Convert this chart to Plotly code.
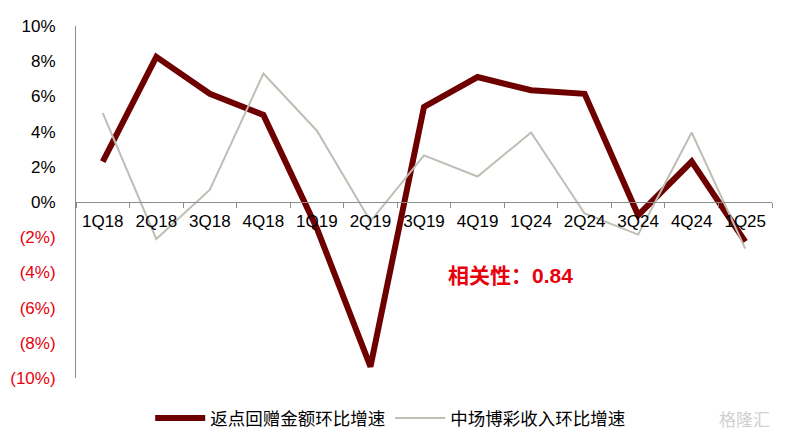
import plotly.graph_objects as go

quarters = ["1Q18", "2Q18", "3Q18", "4Q18", "1Q19", "2Q19", "3Q19", "4Q19",
            "1Q24", "2Q24", "3Q24", "4Q24", "1Q25"]
rebate_qoq = [2.3, 8.25, 6.15, 4.95, -1.5, -9.35, 5.4, 7.1, 6.35, 6.15, -0.75, 2.3, -2.25]
mass_qoq = [5.05, -2.1, 0.7, 7.3, 4.05, -1.1, 2.65, 1.45, 3.95, -0.65, -1.85, 3.95, -2.65]
y_ticks = [10, 8, 6, 4, 2, 0, -2, -4, -6, -8, -10]
y_labels = ["10%", "8%", "6%", "4%", "2%", "0%",
            "<span style='color:#E8000B'>(2%)</span>",
            "<span style='color:#E8000B'>(4%)</span>",
            "<span style='color:#E8000B'>(6%)</span>",
            "<span style='color:#E8000B'>(8%)</span>",
            "<span style='color:#E8000B'>(10%)</span>"]

FONT = "Liberation Sans, Arial, Noto Sans CJK SC, sans-serif"

fig = go.Figure()
fig.add_trace(go.Scatter(x=quarters, y=rebate_qoq, mode="lines", name="返点回赠金额环比增速",
                         line=dict(color="#6E0000", width=6)))
fig.add_trace(go.Scatter(x=quarters, y=mass_qoq, mode="lines", name="中场博彩收入环比增速",
                         line=dict(color="#BFBEB4", width=2)))

fig.update_layout(
    width=780, height=433,
    margin=dict(l=68, r=16, t=18, b=63, autoexpand=False),
    paper_bgcolor="white", plot_bgcolor="white",
    font=dict(family=FONT, size=17, color="black"),
    showlegend=True,
    legend=dict(orientation="h", x=0.49, xanchor="center", xref="container",
                y=0.053, yanchor="middle", yref="container",
                font=dict(size=17.5, family=FONT), itemwidth=50, traceorder="normal"),
    xaxis=dict(type="category", anchor="free", position=0.5, showline=True,
               linecolor="#8C8C8C", linewidth=1, ticks="outside", tickson="boundaries",
               ticklen=5, tickcolor="#8C8C8C", showgrid=False, zeroline=False,
               tickfont=dict(size=17, color="black"), range=[-0.5, 12.5],
               ticklabelstandoff=4),
    yaxis=dict(range=[-10, 10], tickvals=y_ticks, ticktext=y_labels, showline=True,
               linecolor="#8C8C8C", linewidth=1, ticks="", showgrid=False,
               zeroline=False, tickfont=dict(size=17, color="black"), ticklabelstandoff=16,
               domain=[0, 1]),
    annotations=[
        dict(text="<b>相关性：0.84</b>", x=7.61, y=-4.2, xref="x", yref="y",
             showarrow=False, font=dict(size=21, color="#E8000B", family=FONT)),
        dict(text="格隆汇", x=1.0, y=-0.114, xref="paper", yref="paper", showarrow=False,
             xanchor="right", yanchor="middle",
             font=dict(size=17, color="#D0D0D0", family="Noto Sans CJK SC")),
    ],
)

fig.write_html("out.html")
